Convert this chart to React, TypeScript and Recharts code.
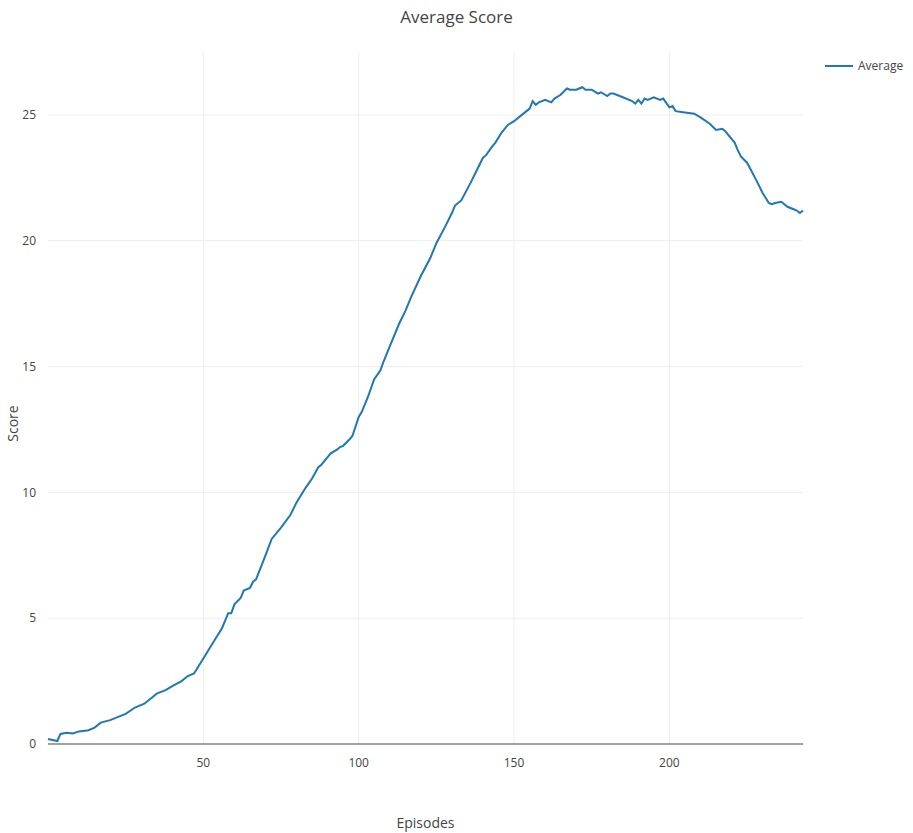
import { LineChart, Line, XAxis, YAxis, ReferenceLine } from "recharts"

const episodes = [0,3,4,6,8,10,13,15,17,20,23,25,28,31,33,35,38,40,43,45,47,48,50,53,56,58,59,60,62,63,65,66,67,70,72,75,78,80,83,85,87,88,90,91,93,94,95,97,98,100,101,103,104,105,107,108,110,113,115,117,120,123,125,128,130,131,133,136,138,140,141,143,144,146,148,150,153,155,156,157,158,160,162,163,165,167,168,170,172,173,175,177,178,180,181,182,185,188,189,190,191,192,193,195,197,198,200,201,202,205,208,210,213,215,217,218,220,221,222,223,225,228,230,232,233,234,236,238,240,241,242,243]
const scores = [0.2,0.12,0.4,0.45,0.42,0.5,0.55,0.65,0.85,0.95,1.1,1.2,1.45,1.6,1.8,2.0,2.15,2.3,2.5,2.7,2.8,3.0,3.4,4.0,4.6,5.2,5.2,5.55,5.8,6.1,6.2,6.45,6.55,7.5,8.15,8.6,9.1,9.6,10.2,10.55,11.0,11.1,11.4,11.55,11.7,11.8,11.85,12.1,12.25,13.0,13.2,13.8,14.15,14.5,14.85,15.2,15.8,16.7,17.2,17.8,18.6,19.3,19.9,20.6,21.1,21.4,21.6,22.3,22.8,23.3,23.4,23.75,23.9,24.3,24.6,24.75,25.05,25.25,25.55,25.4,25.5,25.6,25.5,25.65,25.8,26.05,26.0,26.0,26.1,26.0,26.0,25.85,25.9,25.75,25.85,25.85,25.7,25.55,25.45,25.6,25.45,25.65,25.6,25.7,25.6,25.65,25.3,25.35,25.15,25.1,25.05,24.9,24.65,24.4,24.45,24.35,24.05,23.9,23.6,23.35,23.1,22.4,21.9,21.5,21.45,21.5,21.55,21.35,21.25,21.2,21.1,21.2]
const xTicks = [50, 100, 150, 200]
const yTicks = [0, 5, 10, 15, 20, 25]

const data = episodes.map((e, i) => ({ episode: e, score: scores[i] }))
const font = '"Open Sans", sans-serif'
const tick = { fill: "#444", fontSize: 12, fontFamily: font }

export default function App() {
  return (
    <div style={{ position: "fixed", left: 0, top: 0, width: 913, height: 833, background: "#fff", fontFamily: font }}>
      <div style={{ position: "absolute", top: 5, width: 913, textAlign: "center", fontSize: 17, color: "#444" }}>Average Score</div>
      <div style={{ position: "absolute", top: 813, left: 48, width: 755, textAlign: "center", fontSize: 14, color: "#444" }}>Episodes</div>
      <div style={{ position: "absolute", left: -10, top: 414, width: 44, textAlign: "center", fontSize: 14, color: "#444", transform: "rotate(-90deg)" }}>Score</div>
      <div style={{ position: "absolute", left: 825, top: 57, display: "flex", alignItems: "center", fontSize: 12, color: "#444" }}>
        <span style={{ display: "inline-block", width: 28, height: 2, background: "#1f77b4", marginRight: 5 }} />Average
      </div>
      <LineChart width={913} height={833} data={data} margin={{ top: 52, right: 110, bottom: 59, left: 8 }}>
        <XAxis dataKey="episode" type="number" domain={[0, 243]} ticks={xTicks} axisLine={false} tickLine={false} tick={tick} height={30} tickMargin={8} />
        <YAxis type="number" domain={[0, 27.5]} ticks={yTicks} axisLine={false} tickLine={false} tick={tick} width={40} tickMargin={6} />
        {xTicks.map((x) => <ReferenceLine key={"x" + x} x={x} stroke="#eee" />)}
        {yTicks.filter((y) => y > 0).map((y) => <ReferenceLine key={"y" + y} y={y} stroke="#eee" />)}
        <ReferenceLine y={0} stroke="#444" strokeWidth={1} />
        <Line dataKey="score" stroke="#1f77b4" strokeWidth={2} dot={false} isAnimationActive={false} type="linear" />
      </LineChart>
    </div>
  )
}
